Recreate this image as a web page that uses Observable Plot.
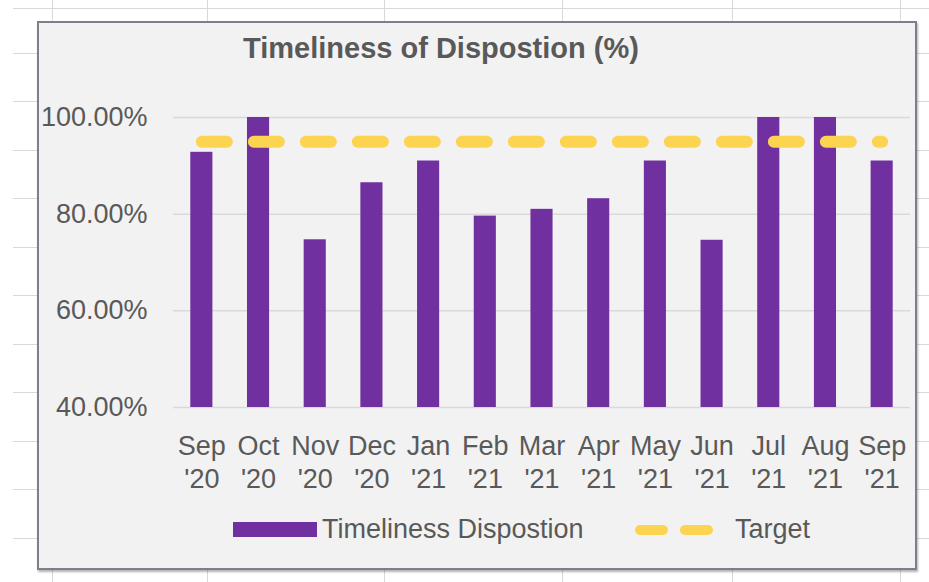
<!DOCTYPE html>
<html><head><meta charset="utf-8">
<script src="https://cdn.jsdelivr.net/npm/d3@7"></script>
<script src="https://cdn.jsdelivr.net/npm/@observablehq/plot@0.6"></script>
<style>
body{margin:0;background:#fff;}
#wrap{position:relative;width:929px;height:582px;overflow:hidden;background:#fff;font-family:"Liberation Sans",sans-serif;color:#595959;}
.hl{position:absolute;left:13px;right:0;height:1px;background:#d9d9d9;}
.vl{position:absolute;top:0;bottom:0;width:1px;background:#d9d9d9;}
#frame{position:absolute;left:37px;top:21px;width:880px;height:549px;box-sizing:border-box;background:#f2f2f2;border:2px solid #7c808c;box-shadow:1px 2px 2px rgba(0,0,0,0.3);}
#title{position:absolute;left:141px;width:600px;top:32px;text-align:center;font-weight:bold;font-size:29px;color:#595959;}
#chart{position:absolute;left:0;top:0;}
.lg{position:absolute;font-size:27px;line-height:32px;color:#595959;white-space:nowrap;}
</style></head>
<body><div id="wrap"></div>
<script>
const monthLabels = ["Sep","Oct","Nov","Dec","Jan","Feb","Mar","Apr","May","Jun","Jul","Aug","Sep"];
const yearLabels  = ["'20","'20","'20","'20","'21","'21","'21","'21","'21","'21","'21","'21","'21"];
const timeliness  = [92.8, 100, 74.7, 86.5, 91.0, 79.6, 81.0, 83.2, 91.0, 74.6, 100, 100, 91.0];
const target      = [95, 95, 95, 95, 95, 95, 95, 95, 95, 95, 95, 95, 95];
const yTicks      = [40, 60, 80, 100];
const yTickLabels = ["40.00%", "60.00%", "80.00%", "100.00%"];
const seriesNames = ["Timeliness Dispostion", "Target"];
const titleText   = "Timeliness of Dispostion (%)";

const categories = monthLabels.map((m, i) => m + "\n" + yearLabels[i]);
const data = categories.map((c, i) => ({cat: c, value: timeliness[i], target: target[i]}));

const wrap = document.getElementById("wrap");
// spreadsheet background grid (decoration)
[8,53,101,150,198,247,295,344,392,441,489,538].forEach(y => {
  const d = document.createElement("div"); d.className = "hl"; d.style.top = y + "px"; wrap.appendChild(d);
});
[52,207,384,562,732,900].forEach(x => {
  const d = document.createElement("div"); d.className = "vl"; d.style.left = x + "px"; wrap.appendChild(d);
});
const frame = document.createElement("div"); frame.id = "frame"; wrap.appendChild(frame);

const fmtY = d => yTickLabels[yTicks.indexOf(d)];
const chart = Plot.plot({
  width: 929,
  height: 582,
  marginLeft: 173,
  marginRight: 19,
  marginTop: 117,
  marginBottom: 175,
  style: {background: "transparent", fontFamily: "'Liberation Sans',sans-serif", fontSize: "27px", color: "#595959", overflow: "visible"},
  x: {domain: categories, paddingInner: 0.61, paddingOuter: 0.305, round: false, label: null},
  y: {domain: [40, 100], label: null},
  marks: [
    Plot.gridY(yTicks, {stroke: "#d9d9d9", strokeOpacity: 1, strokeWidth: 1.5}),
    Plot.axisY(yTicks, {tickFormat: fmtY, tickSize: 0, tickPadding: 26, fill: "#595959"}),
    Plot.axisX({tickSize: 0, tickPadding: 24, lineHeight: 1.22, fill: "#595959"}),
    Plot.barY(data, {x: "cat", y1: 40, y2: "value", fill: "#7030a0"}),
    Plot.lineY(data, {x: "cat", y: "target", stroke: "#fcd44f", strokeWidth: 12, strokeDasharray: "25,27", strokeLinecap: "round"})
  ]
});
chart.id = "chart";
wrap.appendChild(chart);

const title = document.createElement("div"); title.id = "title"; title.textContent = titleText; wrap.appendChild(title);

function add(html, left, top) {
  const d = document.createElement("div"); d.className = "lg"; d.style.left = left + "px"; d.style.top = top + "px";
  d.innerHTML = html; wrap.appendChild(d);
}
add(`<div style="width:84px;height:15px;background:#7030a0"></div>`, 233, 522);
add(`<span>${seriesNames[0]}</span>`, 322, 513);
add(`<svg width="80" height="14" style="display:block"><line x1="5" x2="73" y1="7" y2="7" stroke="#fcd44f" stroke-width="10" stroke-linecap="round" stroke-dasharray="23,22"/></svg>`, 635, 523);
add(`<span>${seriesNames[1]}</span>`, 735, 513);
</script></body></html>
